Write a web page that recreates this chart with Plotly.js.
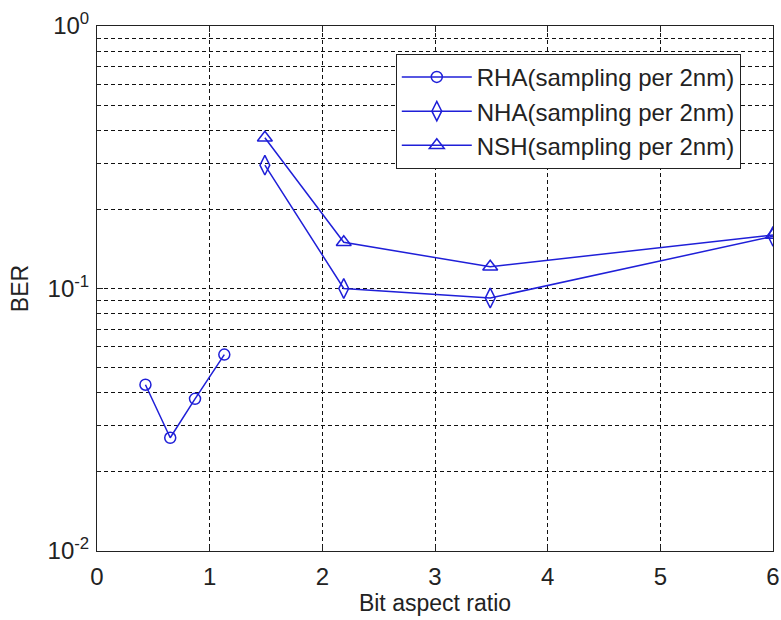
<!DOCTYPE html>
<html>
<head>
<meta charset="utf-8">
<script src="https://cdn.plot.ly/plotly-3.0.1.min.js"></script>
<style>html,body{margin:0;padding:0;background:#fff;}#chart{width:781px;height:620px;}</style>
</head>
<body>
<div id="chart"></div>
<script>
var rhaX = [0.43, 0.65, 0.87, 1.13];
var rhaY = [0.043, 0.027, 0.038, 0.056];
var nhaX = [1.49, 2.19, 3.49, 6.0];
var nhaY = [0.295, 0.100, 0.092, 0.158];
var nshX = [1.49, 2.19, 3.49, 6.0];
var nshY = [0.375, 0.150, 0.121, 0.160];
var seriesNames = ['RHA(sampling per 2nm)', 'NHA(sampling per 2nm)', 'NSH(sampling per 2nm)'];
var xTicks = [0, 1, 2, 3, 4, 5, 6];
var yTickVals = [0.01, 0.1, 1];
var yTickText = ['10<sup>-2</sup>', '10<sup>-1</sup>', '10<sup>0</sup>'];
var yMinorVals = [0.02,0.03,0.04,0.05,0.06,0.07,0.08,0.09,0.2,0.3,0.4,0.5,0.6,0.7,0.8,0.9];

var blue = '#1f1fd8';
var font = 'Liberation Sans, Arial, sans-serif';
function tr(x, y, name, sym, size) {
  return {x: x, y: y, name: name, type: 'scatter', mode: 'lines+markers',
    line: {color: blue, width: 1.5},
    marker: {symbol: sym, size: size, color: blue, line: {color: blue, width: 1.5}}};
}
var data = [
  tr(rhaX, rhaY, seriesNames[0], 'circle-open', 11),
  tr(nhaX, nhaY, seriesNames[1], 'diamond-tall-open', 14),
  tr(nshX, nshY, seriesNames[2], 'triangle-up-open', 13)
];
var layout = {
  width: 781, height: 620,
  margin: {l: 97, r: 8, t: 26, b: 69},
  paper_bgcolor: '#fff', plot_bgcolor: '#fff',
  font: {family: font, size: 23, color: '#222'},
  showlegend: true,
  legend: {x: 0.442, y: 0.947, xanchor: 'left', yanchor: 'top', itemwidth: 70,
    bgcolor: '#fff', bordercolor: '#222', borderwidth: 1,
    font: {family: font, size: 24, color: '#222'}, tracegroupgap: 0},
  xaxis: {range: [0, 6], tickmode: 'array', tickvals: xTicks, ticktext: xTicks.map(String),
    showgrid: true, gridcolor: '#111', griddash: '4px,3px', gridwidth: 1,
    zeroline: false, showline: true, linecolor: '#222', linewidth: 1, mirror: 'ticks',
    ticks: 'inside', ticklen: 6, tickcolor: '#222', ticklabelstandoff: 4,
    title: {text: 'Bit aspect ratio', font: {family: font, size: 23, color: '#222'}, standoff: 4},
    tickfont: {family: font, size: 24, color: '#222'}},
  yaxis: {type: 'log', range: [-2, 0], tickmode: 'array', tickvals: yTickVals, ticktext: yTickText,
    showgrid: true, gridcolor: '#111', griddash: '4px,3px', gridwidth: 1,
    zeroline: false, showline: true, linecolor: '#222', linewidth: 1, mirror: 'ticks',
    ticks: 'inside', ticklen: 6, tickcolor: '#222', ticklabelstandoff: 2,
    minor: {tickmode: 'array', tickvals: yMinorVals, showgrid: true, gridcolor: '#111', griddash: '4px,3px', gridwidth: 1, ticks: 'inside', ticklen: 3, tickcolor: '#222'},
    title: {text: 'BER', font: {family: font, size: 23, color: '#222'}, standoff: 12},
    tickfont: {family: font, size: 24, color: '#222'}}
};
Plotly.newPlot('chart', data, layout, {displayModeBar: false, staticPlot: true});
</script>
</body>
</html>
